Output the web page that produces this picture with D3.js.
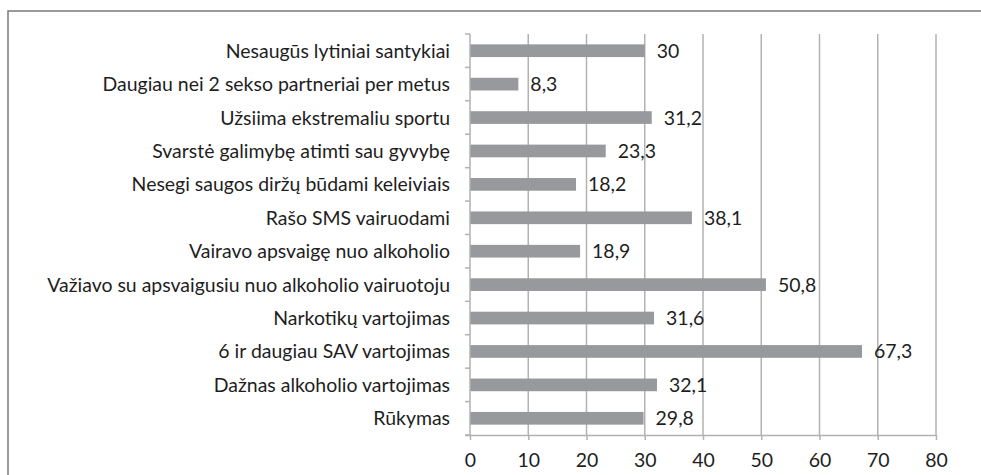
<!DOCTYPE html>
<html>
<head>
<meta charset="utf-8">
<script src="https://cdn.jsdelivr.net/npm/d3@7"></script>
<style>
  body { margin: 0; background: #fff; }
  text { font-family: Lato, "Open Sans", sans-serif; fill: #1e1e1e; }
</style>
</head>
<body>
<svg id="chart" width="981" height="475"></svg>
<script>
// categories top to bottom, as in the picture
var categories = [
    "Nesaugūs lytiniai santykiai",
    "Daugiau nei 2 sekso partneriai per metus",
    "Užsiima ekstremaliu sportu",
    "Svarstė galimybę atimti sau gyvybę",
    "Nesegi saugos diržų būdami keleiviais",
    "Rašo SMS vairuodami",
    "Vairavo apsvaigę nuo alkoholio",
    "Važiavo su apsvaigusiu nuo alkoholio vairuotoju",
    "Narkotikų vartojimas",
    "6 ir daugiau SAV vartojimas",
    "Dažnas alkoholio vartojimas",
    "Rūkymas"
];
var values = [30, 8.3, 31.2, 23.3, 18.2, 38.1, 18.9, 50.8, 31.6, 67.3, 32.1, 29.8];
var xTicks = [0, 10, 20, 30, 40, 50, 60, 70, 80];

var svg = d3.select("#chart");
var margin = {top: 34, left: 470, right: 45, bottom: 40};
var width = 981, height = 475;
var lineColor = "#b2b2b2";

// frame of the chart area (top and left edges are visible)
svg.append("path")
    .attr("d", "M8,475V11H981")
    .attr("fill", "none")
    .attr("stroke", "#7a7a7a")
    .attr("stroke-width", 1.5);

var x = d3.scaleLinear().domain([0, 80]).range([margin.left, width - margin.right]);
var y = d3.scaleBand().domain(categories).range([margin.top, height - margin.bottom])
    .paddingInner(0.62).paddingOuter(0.31);

// fit the label font so the longest label matches the original width
var probe = svg.append("text").attr("font-size", 16).text(categories[7]);
var fs = 16 * 403 / probe.node().getComputedTextLength();
probe.remove();

var grid = svg.append("g");
grid.selectAll("line")
    .data(xTicks.slice(1))
    .enter().append("line")
    .attr("x1", d => x(d)).attr("x2", d => x(d))
    .attr("y1", margin.top).attr("y2", height - margin.bottom)
    .attr("stroke", lineColor)
    .attr("stroke-width", 1.5);

svg.append("g").selectAll("rect")
    .data(values)
    .enter().append("rect")
    .attr("x", x(0))
    .attr("y", (d, i) => y(categories[i]))
    .attr("width", d => x(d) - x(0))
    .attr("height", y.bandwidth())
    .attr("fill", "#98999c");

var fmt = d => String(d).replace(".", ",");
svg.append("g").selectAll("text")
    .data(values)
    .enter().append("text")
    .attr("x", d => x(d) + 12)
    .attr("y", (d, i) => y(categories[i]) + y.bandwidth() / 2)
    .attr("dy", "0.36em")
    .attr("font-size", fs)
    .text(fmt);

// y axis: line, ticks at band edges, labels
var yAxis = svg.append("g");
var edges = d3.range(categories.length + 1).map(i => margin.top + i * y.step());
yAxis.append("line")
    .attr("x1", x(0)).attr("x2", x(0))
    .attr("y1", margin.top).attr("y2", height - margin.bottom)
    .attr("stroke", lineColor).attr("stroke-width", 1.5);
yAxis.selectAll(".tk")
    .data(edges)
    .enter().append("line")
    .attr("x1", x(0) - 5).attr("x2", x(0))
    .attr("y1", d => d).attr("y2", d => d)
    .attr("stroke", lineColor).attr("stroke-width", 1.5);
yAxis.selectAll("text")
    .data(categories)
    .enter().append("text")
    .attr("x", x(0) - 20)
    .attr("y", d => y(d) + y.bandwidth() / 2)
    .attr("dy", "0.36em")
    .attr("text-anchor", "end")
    .attr("font-size", fs)
    .text(d => d);

// x axis
var xAxis = svg.append("g")
    .attr("transform", "translate(0," + (height - margin.bottom) + ")")
    .call(d3.axisBottom(x).tickValues(xTicks).tickSize(5).tickSizeOuter(0).tickPadding(13));
xAxis.select(".domain").attr("stroke", lineColor).attr("stroke-width", 1.5)
    .attr("d", "M" + (x(0) - 5) + ",0.5H" + x(80));
xAxis.selectAll(".tick line").attr("stroke", lineColor).attr("stroke-width", 1.5);
xAxis.selectAll(".tick text")
    .attr("font-size", fs)
    .attr("font-family", "Lato, Open Sans, sans-serif")
    .attr("fill", "#1e1e1e");
</script>
</body>
</html>
